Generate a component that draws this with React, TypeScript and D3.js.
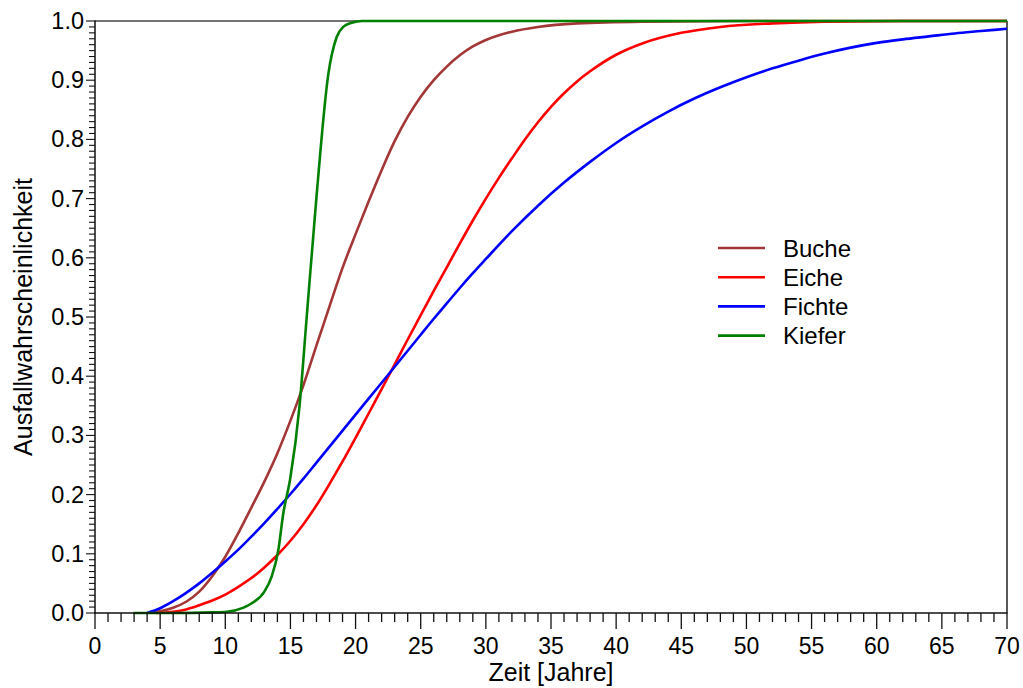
import React from "react";
import * as d3 from "d3";

const seriesNames = ["Buche", "Eiche", "Fichte", "Kiefer"];
const seriesColors = ["#a33636", "#ff0000", "#0000ff", "#008000"];

const bucheX = [4.2, 5, 6, 7, 8, 9, 10, 11, 12, 13, 14, 15, 16, 17, 18, 19, 20, 21, 22, 23, 24, 25, 26, 27, 28, 29, 30, 31, 32, 34, 37, 42, 50, 70];
const bucheY = [0, 0.003, 0.009, 0.019, 0.036, 0.062, 0.095, 0.135, 0.178, 0.222, 0.27, 0.325, 0.385, 0.452, 0.518, 0.583, 0.64, 0.695, 0.748, 0.797, 0.838, 0.872, 0.9, 0.923, 0.942, 0.957, 0.968, 0.976, 0.982, 0.99, 0.996, 0.999, 1.0, 1.0];

const eicheX = [4.7, 6, 7, 8, 9, 10, 11, 12, 13, 14, 15, 16, 17, 18, 19, 20, 21, 22, 23, 24, 25, 26, 27, 28, 29, 30, 31, 32, 33, 34, 35, 36, 37, 38, 40, 42, 45, 48, 52, 56, 62, 70];
const eicheY = [0, 0.002, 0.006, 0.013, 0.021, 0.031, 0.044, 0.059, 0.077, 0.098, 0.122, 0.15, 0.182, 0.218, 0.256, 0.296, 0.337, 0.378, 0.42, 0.462, 0.503, 0.544, 0.584, 0.624, 0.663, 0.7, 0.735, 0.768, 0.8, 0.829, 0.855, 0.878, 0.898, 0.915, 0.943, 0.962, 0.98, 0.99, 0.996, 0.999, 1.0, 1.0];

const fichteX = [4, 5, 6, 7, 8, 9, 10, 11, 12, 13, 14, 15, 16, 17, 18, 19, 20, 21, 22, 23, 24, 25, 26, 27, 28, 29, 30, 32, 34, 36, 38, 40, 42, 44, 46, 48, 50, 52, 54, 56, 58, 60, 62, 64, 66, 68, 70];
const fichteY = [0, 0.008, 0.02, 0.034, 0.05, 0.068, 0.087, 0.107, 0.129, 0.152, 0.176, 0.201, 0.227, 0.254, 0.281, 0.308, 0.335, 0.362, 0.389, 0.416, 0.443, 0.47, 0.497, 0.523, 0.549, 0.574, 0.598, 0.645, 0.688, 0.727, 0.762, 0.794, 0.822, 0.847, 0.869, 0.888, 0.905, 0.92, 0.933, 0.945, 0.955, 0.963, 0.969, 0.974, 0.979, 0.983, 0.987];

const kieferX = [2.94, 6, 9, 10.1, 11.4, 12, 13, 13.55, 14.07, 14.45, 14.97, 15.7, 16.25, 17.0, 17.9, 18.55, 19.05, 19.7, 20.5, 70];
const kieferY = [0, 0, 0.001, 0.002, 0.009, 0.016, 0.036, 0.061, 0.106, 0.168, 0.225, 0.35, 0.5, 0.703, 0.909, 0.973, 0.99, 0.997, 1.0, 1.0];

const seriesX = [bucheX, eicheX, fichteX, kieferX];
const seriesY = [bucheY, eicheY, fichteY, kieferY];

const xLabel = "Zeit [Jahre]";
const yLabel = "Ausfallwahrscheinlichkeit";

const W = 1023;
const H = 688;
const left = 95;
const right = 1007;
const top = 21;
const bottom = 613;
const FONT = "'Liberation Sans', Arial, sans-serif";

export default function App() {
  const x = d3.scaleLinear().domain([0, 70]).range([left, right]);
  const y = d3.scaleLinear().domain([0, 1]).range([bottom, top]);
  const xTicks = d3.range(0, 71, 1);
  const yTicks = d3.range(0, 101, 1).map((v) => v / 100);
  const line = d3
    .line<[number, number]>()
    .x((d) => x(d[0]))
    .y((d) => y(d[1]))
    .curve(d3.curveMonotoneX);

  return (
    <svg
      width={W}
      height={H}
      style={{ position: "absolute", left: 0, top: 0, background: "#fff" }}
      fontFamily={FONT}
    >
      {/* frame */}
      <line x1={left} x2={right} y1={top} y2={top} stroke="#444" strokeWidth={1.5} />
      <line x1={right} x2={right} y1={top} y2={bottom} stroke="#222" strokeWidth={1.5} />

      {/* series */}
      {seriesNames.map((name, i) => {
        const pts: [number, number][] = seriesX[i].map((xv, j) => [xv, seriesY[i][j]]);
        return (
          <path
            key={name}
            d={line(pts) || ""}
            fill="none"
            stroke={seriesColors[i]}
            strokeWidth={2.6}
            strokeLinejoin="round"
          />
        );
      })}

      {/* y axis */}
      <line x1={left} x2={left} y1={top - 0.5} y2={bottom + 0.5} stroke="#111" strokeWidth={1.5} />
      {yTicks.map((v, i) => {
        const major = i % 10 === 0;
        return (
          <line
            key={"yt" + i}
            x1={left}
            x2={left - (major ? 9 : 6)}
            y1={y(v)}
            y2={y(v)}
            stroke="#111"
            strokeWidth={1.1}
          />
        );
      })}
      {yTicks
        .filter((_, i) => i % 10 === 0)
        .map((v) => (
          <text
            key={"yl" + v}
            x={left - 11}
            y={y(v)}
            textAnchor="end"
            dominantBaseline="central"
            fontSize={23.5}
            fill="#000"
          >
            {v.toFixed(1)}
          </text>
        ))}

      {/* x axis */}
      <line x1={left - 0.5} x2={right + 0.5} y1={bottom} y2={bottom} stroke="#111" strokeWidth={1.5} />
      {xTicks.map((v) => {
        const major = v % 5 === 0;
        return (
          <line
            key={"xt" + v}
            x1={x(v)}
            x2={x(v)}
            y1={bottom}
            y2={bottom + (major ? 16 : 9)}
            stroke="#111"
            strokeWidth={1.3}
          />
        );
      })}
      {xTicks
        .filter((v) => v % 5 === 0)
        .map((v) => (
          <text key={"xl" + v} x={x(v)} y={654} textAnchor="middle" fontSize={23} fill="#000">
            {v}
          </text>
        ))}

      {/* axis titles */}
      <text x={(left + right) / 2} y={681} textAnchor="middle" fontSize={25} fill="#000">
        {xLabel}
      </text>
      <text
        transform={`translate(32, ${(top + bottom) / 2}) rotate(-90)`}
        textAnchor="middle"
        fontSize={25}
        fill="#000"
      >
        {yLabel}
      </text>

      {/* legend */}
      {seriesNames.map((name, i) => {
        const ly = 248 + i * 29.2;
        return (
          <g key={"lg" + name}>
            <line x1={718} x2={765} y1={ly} y2={ly} stroke={seriesColors[i]} strokeWidth={2.6} />
            <text x={783} y={ly} dominantBaseline="central" fontSize={24} fill="#000">
              {name}
            </text>
          </g>
        );
      })}
    </svg>
  );
}
